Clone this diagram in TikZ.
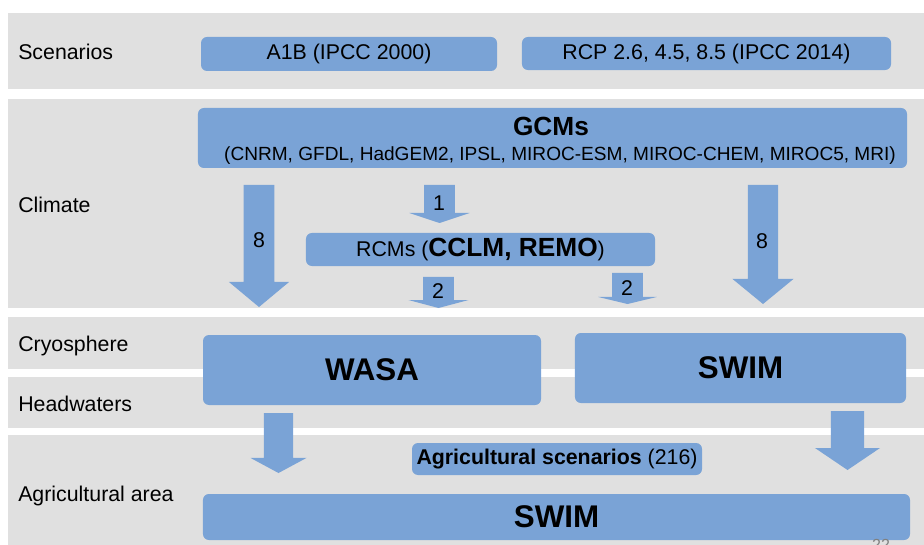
\documentclass[tikz,border=0pt]{standalone}
\usepackage{fontspec}
\setmainfont{Liberation Sans}
\usetikzlibrary{positioning, calc, fit}
\definecolor{boxblue}{RGB}{122,163,214}
\definecolor{bandgray}{RGB}{224,224,224}

\begin{document}
\begin{tikzpicture}[
  x=0.75pt, y=-0.75pt,
  band/.style={fill=bandgray, inner sep=0pt},
  blk/.style={fill=boxblue, rounded corners=4.5pt, inner sep=0pt, align=center,
              font=\fontsize{16}{19}\selectfont},
  bigname/.style={font=\fontsize{23.5}{27}\selectfont\bfseries},
  rowlbl/.style={anchor=base west, inner sep=0pt, font=\fontsize{16}{19}\selectfont},
  num/.style={inner sep=0pt, font=\fontsize{16}{19}\selectfont},
  shaftw/.store in=\shafthw, shaftw=11.6pt,
  headw/.store in=\headhw, headw=22.6pt,
  tiplen/.store in=\headlen, tiplen=18.8pt,
  flow/.style={fill=boxblue, to path={let \p1=(\tikztostart), \p2=(\tikztotarget) in
      (\x1-\shafthw,\y1) -- (\x1+\shafthw,\y1) -- (\x1+\shafthw,\y2+\headlen)
      -- (\x1+\headhw,\y2+\headlen) -- (\x1,\y2) -- (\x1-\headhw,\y2+\headlen)
      -- (\x1-\shafthw,\y2+\headlen) -- cycle}},
]
\useasboundingbox (0,0) rectangle (924,545);

% Grey rows
\node[band, fit={(8,13) (924,89)}] (scenband) {};
\node[band, fit={(8,99) (924,308)}] (climband) {};
\node[band, fit={(8,317) (924,369)}] (cryoband) {};
\node[band, fit={(8,377) (924,428)}] (headband) {};
\node[band, fit={(8,435) (924,545)}] (agriband) {};

% Row titles
\node[rowlbl] (scenlbl) at (18,60) {Scenarios};
\node[rowlbl] (climlbl) at (18,212.5) {Climate};
\node[rowlbl] (cryolbl) at (18,351) {Cryosphere};
\node[rowlbl] (headlbl) at (18,411) {Headwaters};
\node[rowlbl] (agrilbl) at (18,501) {Agricultural area};

% Scenarios
\node[blk, minimum width=222pt, minimum height=25.5pt] (a1b) at (349,54) {A1B (IPCC 2000)};
\node[blk, minimum width=276.8pt, minimum height=24.8pt] (rcp) at (706.5,53.5) {RCP 2.6, 4.5, 8.5 (IPCC 2014)};

% Global and regional models
\node[blk, minimum width=531.8pt, minimum height=45pt] (gcm) at (552.5,138) {};
\node[anchor=base, inner sep=0pt, font=\fontsize{19.7}{22}\selectfont\bfseries] (gcmname) at (551,136) {GCMs};
\node[anchor=base, inner sep=0pt, font=\fontsize{14.3}{17}\selectfont] (gcmlist) at (560,161)
  {(CNRM, GFDL, HadGEM2, IPSL, MIROC-ESM, MIROC-CHEM, MIROC5, MRI)};
\node[blk, minimum width=261.8pt, minimum height=24.8pt] (rcm) at (480.5,249.5)
  {RCMs ({\fontsize{19.7}{22}\selectfont\bfseries CCLM, REMO})};

% Hydrological models
\node[blk, bigname, minimum width=253.5pt, minimum height=52.5pt] (wasa) at (372,370) {WASA};
\node[blk, bigname, minimum width=248.3pt, minimum height=52.5pt] (swim) at (740.5,368) {SWIM};
\node[blk, minimum width=217.5pt, minimum height=24pt] (agri) at (557,459) {\textbf{Agricultural scenarios} (216)};
\node[blk, bigname, minimum width=530.3pt, minimum height=34.5pt] (swimag) at (556.5,517) {SWIM};

% Flows between the models
\coordinate (g8l) at (259,185);   \coordinate (w8l) at (259,307);
\coordinate (g1) at (439.5,185);  \coordinate (r1) at (439.5,223);
\coordinate (r2l) at (438.5,277); \coordinate (w2) at (438.5,308);
\coordinate (r2r) at (627.5,273); \coordinate (s2) at (627.5,304);
\coordinate (g8r) at (763,185);   \coordinate (s8r) at (763,304);
\coordinate (wout) at (278.5,413); \coordinate (wag) at (278.5,473);
\coordinate (sout) at (847.5,411); \coordinate (sag) at (847.5,470);

\fill[flow] (g8l) to (w8l);
\fill[flow, tiplen=7.5pt] (g1) to (r1);
\fill[flow, tiplen=6pt] (r2l) to (w2);
\fill[flow, tiplen=5.3pt, headw=22.1pt] (r2r) to (s2);
\fill[flow, shaftw=11.3pt, headw=22.9pt] (g8r) to (s8r);
\fill[flow, shaftw=10.9pt, headw=21pt, tiplen=11.3pt] (wout) to (wag);
\fill[flow, shaftw=12.4pt, headw=24.4pt, tiplen=16.5pt] (sout) to (sag);

% Number of runs
\node[num] (n8l) at (259,240) {8};
\node[num] (n1) at (439,203) {1};
\node[num] (n2l) at (438,291) {2};
\node[num] (n2r) at (627,288) {2};
\node[num] (n8r) at (762,241) {8};

% Page number
\node[anchor=north, inner sep=0pt, text=gray, font=\fontsize{12}{14}\selectfont] (pgno) at (881,539) {22};

\end{tikzpicture}
\end{document}
